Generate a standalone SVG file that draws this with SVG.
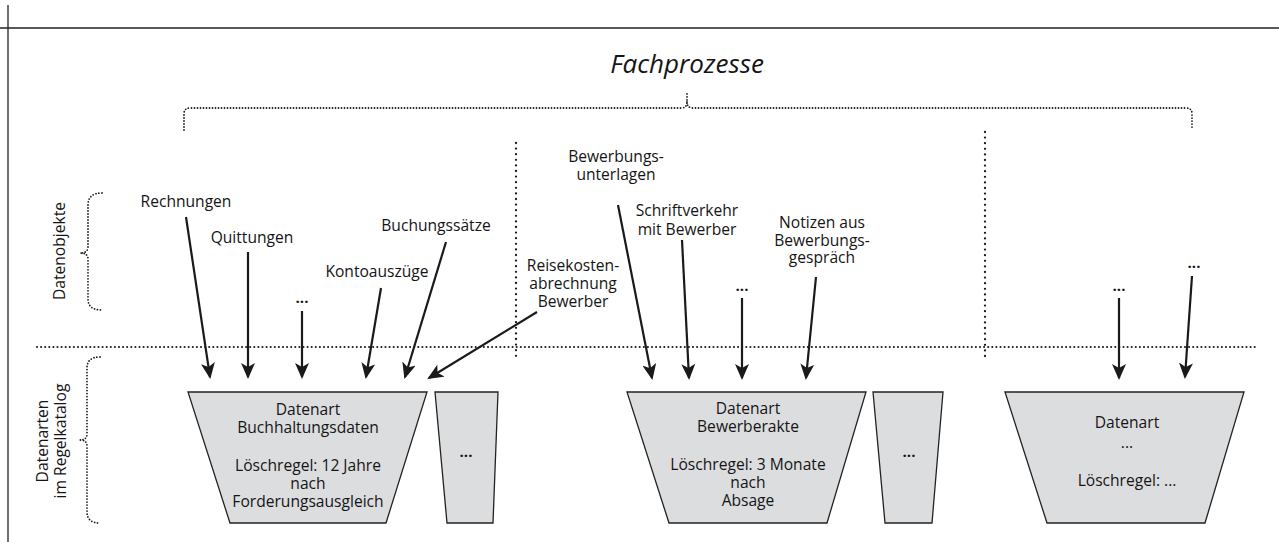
<svg xmlns="http://www.w3.org/2000/svg" width="1279" height="542" viewBox="0 0 1279 542">
<defs>
<style>
text{font-family:"Open Sans","Noto Sans","Liberation Sans",sans-serif;fill:#151515;font-size:15.6px;text-anchor:middle}
.frame{stroke:#222;stroke-width:1.3;fill:none}
.dotline{stroke:#1a1a1a;stroke-width:2.1;stroke-linecap:round;stroke-dasharray:0 4.1;fill:none}
.vdot{stroke:#1a1a1a;stroke-width:2.3;stroke-linecap:round;stroke-dasharray:0 5.6;fill:none}
.brace{stroke:#1a1a1a;stroke-width:1.8;stroke-linecap:round;stroke-dasharray:0 3;fill:none}
.trap{fill:#dcdddf;stroke:#222;stroke-width:1.3}
.arr{stroke:#1a1a1a;stroke-width:2.2;fill:none;marker-end:url(#ah)}
.dots{font-weight:bold;font-size:15px}
</style>
<marker id="ah" markerUnits="userSpaceOnUse" viewBox="0 0 16 14" refX="14" refY="7" markerWidth="16" markerHeight="14" orient="auto">
<path d="M0,0 L16,7 L0,14 L4,7 z" fill="#1a1a1a"/>
</marker>
</defs>

<g id="frame">
<line class="frame" x1="8" y1="5" x2="8" y2="542"/>
<line class="frame" x1="0" y1="28" x2="1279" y2="28"/>
</g>

<g id="header">
<text x="687" y="73" style="font-size:26px;font-style:italic">Fachprozesse</text>
<path class="brace" d="M184,130 V114 Q184,108 190,108 H681 Q687,108 687,102 V93"/>
<path class="brace" d="M687,102 Q687,108 693,108 H1186 Q1192,108 1192,114 V128"/>
</g>

<g id="separators">
<line class="dotline" x1="37" y1="347" x2="1256" y2="347"/>
<line class="vdot" x1="516" y1="143" x2="516" y2="357"/>
<line class="vdot" x1="985" y1="132" x2="985" y2="357"/>
</g>

<g id="label-datenobjekte">
<path class="brace" d="M102,193 Q88,193 88,205 V247 Q88,253 80,253 Q88,253 88,259 V299 Q88,310 102,310"/>
<text transform="translate(65,251) rotate(-90)">Datenobjekte</text>
</g>

<g id="label-datenarten">
<path class="brace" d="M100,357 Q87,357 87,368 V434 Q87,440 80,440 Q87,440 87,446 V512 Q87,523 100,523"/>
<text transform="translate(48,441) rotate(-90)">Datenarten</text>
<text transform="translate(66,441) rotate(-90)">im Regelkatalog</text>
</g>

<g id="objects">
<text x="186" y="207">Rechnungen</text>
<text x="252" y="243">Quittungen</text>
<text class="dots" x="302" y="303">...</text>
<text x="377" y="277">Kontoauszüge</text>
<text x="436" y="231">Buchungssätze</text>
<text x="573" y="271">Reisekosten-</text>
<text x="573" y="289">abrechnung</text>
<text x="573" y="307">Bewerber</text>
<text x="616" y="162">Bewerbungs-</text>
<text x="616" y="180">unterlagen</text>
<text x="687" y="216">Schriftverkehr</text>
<text x="687" y="235">mit Bewerber</text>
<text class="dots" x="742" y="291">...</text>
<text x="822" y="228">Notizen aus</text>
<text x="822" y="246">Bewerbungs-</text>
<text x="822" y="263">gespräch</text>
<text class="dots" x="1119" y="291">...</text>
<text class="dots" x="1194" y="268">...</text>
</g>

<g id="connectors">
<line class="arr" x1="186" y1="217" x2="210" y2="377"/>
<line class="arr" x1="248" y1="252" x2="248" y2="377"/>
<line class="arr" x1="302" y1="311" x2="302" y2="377"/>
<line class="arr" x1="381" y1="288" x2="366" y2="377"/>
<line class="arr" x1="446" y1="242" x2="405" y2="377"/>
<line class="arr" x1="537" y1="312" x2="429" y2="378"/>
<line class="arr" x1="618" y1="205" x2="652" y2="378"/>
<line class="arr" x1="682" y1="240" x2="689" y2="378"/>
<line class="arr" x1="742" y1="298" x2="742" y2="378"/>
<line class="arr" x1="816" y1="277" x2="806" y2="378"/>
<line class="arr" x1="1119" y1="298" x2="1119" y2="378"/>
<line class="arr" x1="1192" y1="276" x2="1185" y2="377"/>
</g>

<g id="node-buchhaltung">
<polygon class="trap" points="188,392 427,392 386,523 230,523"/>
<text x="308" y="415">Datenart</text>
<text x="308" y="433">Buchhaltungsdaten</text>
<text x="308" y="471">Löschregel: 12 Jahre</text>
<text x="308" y="489">nach</text>
<text x="308" y="507">Forderungsausgleich</text>
</g>

<g id="node-small1">
<polygon class="trap" points="435,392 498,392 493,523 447,523"/>
<text class="dots" x="466" y="457">...</text>
</g>

<g id="node-bewerberakte">
<polygon class="trap" points="627,392 866,392 827,523 669,523"/>
<text x="748" y="414">Datenart</text>
<text x="748" y="432">Bewerberakte</text>
<text x="748" y="470">Löschregel: 3 Monate</text>
<text x="748" y="488">nach</text>
<text x="748" y="506">Absage</text>
</g>

<g id="node-small2">
<polygon class="trap" points="873,392 943,392 932,523 885,523"/>
<text class="dots" x="909" y="457">...</text>
</g>

<g id="node-other">
<polygon class="trap" points="1005,392 1244,392 1205,523 1047,523"/>
<text x="1127" y="428">Datenart</text>
<text x="1127" y="448">...</text>
<text x="1127" y="486">Löschregel: ...</text>
</g>
</svg>
